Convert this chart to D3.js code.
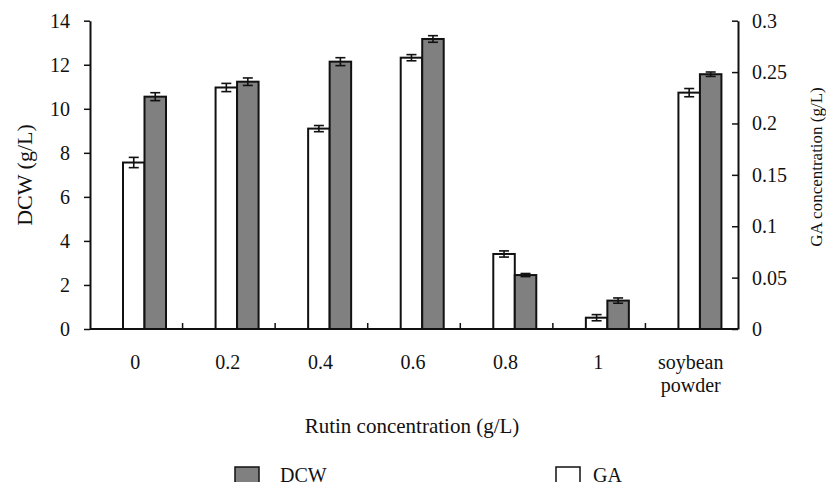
<!DOCTYPE html>
<html>
<head>
<meta charset="utf-8">
<script src="https://cdn.jsdelivr.net/npm/d3@7"></script>
<style>
  body { margin: 0; background: #fff; }
  svg { display: block; font-family: "Liberation Serif", "DejaVu Serif", serif; }
</style>
</head>
<body>
<div id="container"></div>
<script>
const categories = ['0', '0.2', '0.4', '0.6', '0.8', '1', 'soybean powder'];
const dcw = [10.55, 11.23, 12.14, 13.17, 2.45, 1.29, 11.57];
const dcwErr = [0.18, 0.17, 0.18, 0.15, 0.07, 0.12, 0.1];
const ga = [0.162, 0.235, 0.195, 0.264, 0.073, 0.011, 0.230];
const gaErr = [0.005, 0.004, 0.003, 0.003, 0.003, 0.003, 0.004];
const dcwTicks = [0, 2, 4, 6, 8, 10, 12, 14];
const gaTicks = [0, 0.05, 0.1, 0.15, 0.2, 0.25, 0.3];

const W = 826, H = 482;
const plotLeft = 90, plotRight = 738, plotTop = 20.7, plotBottom = 329;

const svg = d3.select('#container')
    .append('svg')
    .attr('width', W)
    .attr('height', H);

const x = d3.scaleBand().domain(categories).range([plotLeft, plotRight]);
const sub = d3.scaleBand().domain(['GA', 'DCW']).range([33, 76]);
const yL = d3.scaleLinear().domain([0, 14]).range([plotBottom, plotTop]);
const yR = d3.scaleLinear().domain([0, 0.3]).range([plotBottom, plotTop]);

const rows = categories.map((c, i) => ({
    cat: c, dcw: dcw[i], dcwErr: dcwErr[i], ga: ga[i], gaErr: gaErr[i]
}));

// bars: GA (white, right axis) and DCW (grey, left axis)
svg.selectAll('.ga')
    .data(rows)
    .enter()
    .append('rect')
    .attr('class', 'ga')
    .attr('x', d => x(d.cat) + sub('GA'))
    .attr('y', d => yR(d.ga))
    .attr('width', sub.bandwidth())
    .attr('height', d => yR(0) - yR(d.ga))
    .style('fill', '#fff')
    .style('stroke', '#111')
    .style('stroke-width', 2);

svg.selectAll('.dcw')
    .data(rows)
    .enter()
    .append('rect')
    .attr('class', 'dcw')
    .attr('x', d => x(d.cat) + sub('DCW'))
    .attr('y', d => yL(d.dcw))
    .attr('width', sub.bandwidth())
    .attr('height', d => yL(0) - yL(d.dcw))
    .style('fill', '#808080')
    .style('stroke', '#111')
    .style('stroke-width', 2);

// error bars
function errBars(cls, key, errKey, y, s) {
    const g = svg.selectAll('.' + cls)
        .data(rows)
        .enter()
        .append('g')
        .attr('class', cls)
        .style('stroke', '#111')
        .style('stroke-width', 1.6);
    const cx = d => x(d.cat) + sub(s) + sub.bandwidth() / 2;
    g.append('line')
        .attr('x1', cx).attr('x2', cx)
        .attr('y1', d => y(d[key] + d[errKey]))
        .attr('y2', d => y(d[key] - d[errKey]));
    g.append('line')
        .attr('x1', d => cx(d) - 5).attr('x2', d => cx(d) + 5)
        .attr('y1', d => y(d[key] + d[errKey]))
        .attr('y2', d => y(d[key] + d[errKey]));
    g.append('line')
        .attr('x1', d => cx(d) - 5).attr('x2', d => cx(d) + 5)
        .attr('y1', d => y(d[key] - d[errKey]))
        .attr('y2', d => y(d[key] - d[errKey]));
}
errBars('gaErr', 'ga', 'gaErr', yR, 'GA');
errBars('dcwErr', 'dcw', 'dcwErr', yL, 'DCW');

// axes
const yAxisL = d3.axisLeft(yL).tickValues(dcwTicks).tickSizeInner(6).tickSizeOuter(0).tickPadding(14);
const yAxisR = d3.axisRight(yR).tickValues(gaTicks).tickSizeInner(-6).tickSizeOuter(0).tickPadding(14)
    .tickFormat(d => String(+d.toFixed(2)));

const gL = svg.append('g')
    .attr('transform', 'translate(' + plotLeft + ',0)')
    .call(yAxisL);
const gR = svg.append('g')
    .attr('transform', 'translate(' + plotRight + ',0)')
    .call(yAxisR);

[gL, gR].forEach(g => {
    g.select('.domain').style('stroke', '#111').style('stroke-width', 2);
    g.selectAll('.tick line').style('stroke', '#111').style('stroke-width', 1.5);
    g.selectAll('.tick text').style('font-size', '20px').style('fill', '#111')
        .style('font-family', '"Liberation Serif", serif');
});

// x baseline
svg.append('line')
    .attr('x1', plotLeft).attr('x2', plotRight)
    .attr('y1', plotBottom).attr('y2', plotBottom)
    .style('stroke', '#111')
    .style('stroke-width', 2);

// inner ticks at category boundaries
svg.selectAll('.xtick')
    .data(categories.slice(1))
    .enter()
    .append('line')
    .attr('class', 'xtick')
    .attr('x1', d => x(d)).attr('x2', d => x(d))
    .attr('y1', plotBottom).attr('y2', plotBottom - 6)
    .style('stroke', '#111')
    .style('stroke-width', 1.5);

// category labels
const lab = svg.selectAll('.xlab')
    .data(categories)
    .enter()
    .append('text')
    .attr('class', 'xlab')
    .attr('x', d => x(d) + x.bandwidth() / 2 - 1)
    .attr('y', 369)
    .style('text-anchor', 'middle')
    .style('font-size', '20px')
    .style('fill', '#111');
lab.each(function (d) {
    const parts = d.split(' ');
    const t = d3.select(this);
    parts.forEach((p, i) => {
        t.append('tspan')
            .attr('x', x(d) + x.bandwidth() / 2 - 1)
            .attr('dy', i === 0 ? 0 : 23)
            .text(p);
    });
});

// axis titles
svg.append('text')
    .attr('x', 412)
    .attr('y', 433)
    .style('text-anchor', 'middle')
    .style('font-size', '21px')
    .style('fill', '#111')
    .text('Rutin concentration (g/L)');

svg.append('text')
    .attr('transform', 'translate(32,175) rotate(-90)')
    .style('text-anchor', 'middle')
    .style('font-size', '22px')
    .style('fill', '#111')
    .text('DCW (g/L)');

svg.append('text')
    .attr('transform', 'translate(822,167) rotate(-90)')
    .style('text-anchor', 'middle')
    .style('font-size', '17px')
    .style('fill', '#111')
    .text('GA concentration (g/L)');

// legend
const legendItems = [
    { name: 'DCW', fill: '#808080', x: 235 },
    { name: 'GA', fill: '#fff', x: 556 }
];
const legend = svg.selectAll('.legend')
    .data(legendItems)
    .enter()
    .append('g')
    .attr('class', 'legend')
    .attr('transform', d => 'translate(' + d.x + ',467)');
legend.append('rect')
    .attr('width', 24)
    .attr('height', 24)
    .style('fill', d => d.fill)
    .style('stroke', '#111')
    .style('stroke-width', 1.5);
legend.append('text')
    .attr('x', d => d.name === 'DCW' ? 45 : 37)
    .attr('y', 15)
    .style('font-size', '20px')
    .style('fill', '#111')
    .text(d => d.name);
</script>
</body>
</html>
